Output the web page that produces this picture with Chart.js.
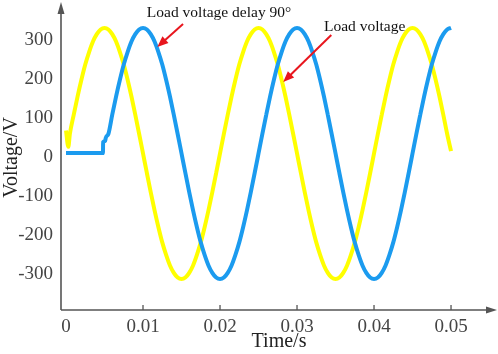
<!DOCTYPE html>
<html>
<head>
<meta charset="utf-8">
<script src="https://cdn.jsdelivr.net/npm/chart.js@4"></script>
<style>
  body { margin: 0; background: #fff; }
</style>
</head>
<body>
<canvas id="mycanvas" width="498" height="354"></canvas>
<script>
// data (time in s, voltage in V)
let loadTime = [0, 0.0003,
  0.0005, 0.001, 0.0015, 0.002, 0.0025, 0.003, 0.0035, 0.004, 0.0045, 0.005,
  0.0055, 0.006, 0.0065, 0.007, 0.0075, 0.008, 0.0085, 0.009, 0.0095, 0.01,
  0.0105, 0.011, 0.0115, 0.012, 0.0125, 0.013, 0.0135, 0.014, 0.0145, 0.015,
  0.0155, 0.016, 0.0165, 0.017, 0.0175, 0.018, 0.0185, 0.019, 0.0195, 0.02,
  0.0205, 0.021, 0.0215, 0.022, 0.0225, 0.023, 0.0235, 0.024, 0.0245, 0.025,
  0.0255, 0.026, 0.0265, 0.027, 0.0275, 0.028, 0.0285, 0.029, 0.0295, 0.03,
  0.0305, 0.031, 0.0315, 0.032, 0.0325, 0.033, 0.0335, 0.034, 0.0345, 0.035,
  0.0355, 0.036, 0.0365, 0.037, 0.0375, 0.038, 0.0385, 0.039, 0.0395, 0.04,
  0.0405, 0.041, 0.0415, 0.042, 0.0425, 0.043, 0.0435, 0.044, 0.0445, 0.045,
  0.0455, 0.046, 0.0465, 0.047, 0.0475, 0.048, 0.0485, 0.049, 0.0495, 0.05];
let loadVoltage = [68, 26,
  59, 108, 155, 198, 237, 269, 296, 315, 327, 331,
  327, 315, 296, 269, 237, 198, 155, 108, 59, 9,
  -41, -90, -137, -180, -219, -251, -278, -297, -309, -313,
  -309, -297, -278, -251, -219, -180, -137, -90, -41, 9,
  59, 108, 155, 198, 237, 269, 296, 315, 327, 331,
  327, 315, 296, 269, 237, 198, 155, 108, 59, 9,
  -41, -90, -137, -180, -219, -251, -278, -297, -309, -313,
  -309, -297, -278, -251, -219, -180, -137, -90, -41, 9,
  59, 108, 155, 198, 237, 269, 296, 315, 327, 331,
  327, 315, 296, 269, 237, 198, 155, 108, 59, 15];

let delayTime = [0, 0.0048, 0.00482, 0.0051, 0.00515,
  0.0055, 0.006, 0.0065, 0.007, 0.0075, 0.008, 0.0085, 0.009, 0.0095, 0.01,
  0.0105, 0.011, 0.0115, 0.012, 0.0125, 0.013, 0.0135, 0.014, 0.0145, 0.015,
  0.0155, 0.016, 0.0165, 0.017, 0.0175, 0.018, 0.0185, 0.019, 0.0195, 0.02,
  0.0205, 0.021, 0.0215, 0.022, 0.0225, 0.023, 0.0235, 0.024, 0.0245, 0.025,
  0.0255, 0.026, 0.0265, 0.027, 0.0275, 0.028, 0.0285, 0.029, 0.0295, 0.03,
  0.0305, 0.031, 0.0315, 0.032, 0.0325, 0.033, 0.0335, 0.034, 0.0345, 0.035,
  0.0355, 0.036, 0.0365, 0.037, 0.0375, 0.038, 0.0385, 0.039, 0.0395, 0.04,
  0.0405, 0.041, 0.0415, 0.042, 0.0425, 0.043, 0.0435, 0.044, 0.0445, 0.045,
  0.0455, 0.046, 0.0465, 0.047, 0.0475, 0.048, 0.0485, 0.049, 0.0495, 0.05];
let delayVoltage = [10, 10, 38, 41, 48,
  59, 108, 155, 198, 237, 269, 296, 315, 327, 331,
  327, 315, 296, 269, 237, 198, 155, 108, 59, 9,
  -41, -90, -137, -180, -219, -251, -278, -297, -309, -313,
  -309, -297, -278, -251, -219, -180, -137, -90, -41, 9,
  59, 108, 155, 198, 237, 269, 296, 315, 327, 331,
  327, 315, 296, 269, 237, 198, 155, 108, 59, 9,
  -41, -90, -137, -180, -219, -251, -278, -297, -309, -313,
  -309, -297, -278, -251, -219, -180, -137, -90, -41, 9,
  59, 108, 155, 198, 237, 269, 296, 315, 327, 331];

let xTicks = [0, 0.01, 0.02, 0.03, 0.04, 0.05];
let yTicks = [-300, -200, -100, 0, 100, 200, 300];

// callouts, in data units
let callouts = [
  { text: "Load voltage delay 90°", tx: 0.0105, ty: 369, from: [0.0152, 341], to: [0.01185, 282] },
  { text: "Load voltage", tx: 0.0335, ty: 333, from: [0.03445, 313], to: [0.0282, 192] },
];

const serif = "'Liberation Serif', 'Times New Roman', serif";

function toPoints(xs, ys) {
  return xs.map((x, i) => ({ x: x, y: ys[i] }));
}

function arrowHead(ctx, x1, y1, x2, y2, len, half) {
  let a = Math.atan2(y2 - y1, x2 - x1);
  ctx.beginPath();
  ctx.moveTo(x2, y2);
  ctx.lineTo(x2 - len * Math.cos(a) + half * Math.sin(a), y2 - len * Math.sin(a) - half * Math.cos(a));
  ctx.lineTo(x2 - len * Math.cos(a) - half * Math.sin(a), y2 - len * Math.sin(a) + half * Math.cos(a));
  ctx.closePath();
  ctx.fill();
}

let axesPlugin = {
  id: "axesAndCallouts",
  afterDraw(chart) {
    let ctx = chart.ctx;
    let area = chart.chartArea;
    let xs = chart.scales.x, ys = chart.scales.y;
    ctx.save();

    // axes with arrows
    ctx.strokeStyle = "#555";
    ctx.fillStyle = "#555";
    ctx.lineWidth = 1.6;
    ctx.beginPath();
    ctx.moveTo(area.left, area.bottom);
    ctx.lineTo(area.left, area.top + 6);
    ctx.moveTo(area.left, area.bottom);
    ctx.lineTo(area.right - 6, area.bottom);
    ctx.stroke();
    arrowHead(ctx, area.left, area.bottom, area.left, area.top - 3, 12, 3.5);
    arrowHead(ctx, area.left, area.bottom, area.right, area.bottom, 11, 3.5);

    // inward tick marks on the time axis
    ctx.lineWidth = 1.3;
    ctx.beginPath();
    xTicks.slice(1).forEach((t) => {
      let px = xs.getPixelForValue(t);
      ctx.moveTo(px, area.bottom);
      ctx.lineTo(px, area.bottom - 5);
    });
    ctx.stroke();

    // callouts
    ctx.font = "15.5px " + serif;
    ctx.textBaseline = "middle";
    ctx.textAlign = "left";
    callouts.forEach((c) => {
      ctx.fillStyle = "#111";
      ctx.fillText(c.text, xs.getPixelForValue(c.tx), ys.getPixelForValue(c.ty));
      let x1 = xs.getPixelForValue(c.from[0]), y1 = ys.getPixelForValue(c.from[1]);
      let x2 = xs.getPixelForValue(c.to[0]), y2 = ys.getPixelForValue(c.to[1]);
      ctx.strokeStyle = "#e8161e";
      ctx.fillStyle = "#e8161e";
      ctx.lineWidth = 2;
      let a = Math.atan2(y2 - y1, x2 - x1);
      ctx.beginPath();
      ctx.moveTo(x1, y1);
      ctx.lineTo(x2 - 8 * Math.cos(a), y2 - 8 * Math.sin(a));
      ctx.stroke();
      arrowHead(ctx, x1, y1, x2, y2, 11, 4.5);
    });
    ctx.restore();
  },
};

let canvas = document.getElementById("mycanvas");

let chart = new Chart(canvas, {
  type: "line",
  data: {
    datasets: [
      {
        label: "Load voltage",
        data: toPoints(loadTime, loadVoltage),
        borderColor: "#ffff00",
        borderWidth: 4,
        pointRadius: 0,
        cubicInterpolationMode: "monotone",
        order: 2,
      },
      {
        label: "Load voltage delay 90°",
        data: toPoints(delayTime, delayVoltage),
        borderColor: "#1b9bef",
        borderWidth: 4,
        pointRadius: 0,
        cubicInterpolationMode: "monotone",
        order: 1,
      },
    ],
  },
  options: {
    responsive: false,
    animation: false,
    layout: { padding: { top: 5, right: 1, left: 0, bottom: 0 } },
    plugins: {
      legend: { display: false },
      tooltip: { enabled: false },
    },
    scales: {
      x: {
        type: "linear",
        min: -0.00065,
        max: 0.05597,
        grid: { display: false, drawTicks: false },
        border: { display: false },
        afterBuildTicks: (s) => { s.ticks = xTicks.map((v) => ({ value: v })); },
        afterFit: (s) => { s.height = 44; s.paddingLeft = 0; s.paddingRight = 0; },
        ticks: {
          color: "#444",
          padding: 6,
          maxRotation: 0,
          font: { family: serif, size: 19 },
          callback: (v) => String(v),
        },
        title: {
          display: true,
          text: "Time/s",
          color: "#222",
          padding: 0,
          font: { family: serif, size: 20, lineHeight: 1.2 },
        },
      },
      y: {
        min: -392.3,
        max: 389.7,
        grid: { display: false, drawTicks: false },
        border: { display: false },
        afterBuildTicks: (s) => { s.ticks = yTicks.map((v) => ({ value: v })); },
        afterFit: (s) => { s.width = 61; s.paddingTop = 0; s.paddingBottom = 0; },
        ticks: {
          color: "#444",
          padding: 8,
          font: { family: serif, size: 19 },
          callback: (v) => String(v),
        },
        title: {
          display: true,
          text: "Voltage/V",
          color: "#222",
          padding: 0,
          font: { family: serif, size: 20, lineHeight: 1.2 },
        },
      },
    },
  },
  plugins: [axesPlugin],
});
</script>
</body>
</html>
